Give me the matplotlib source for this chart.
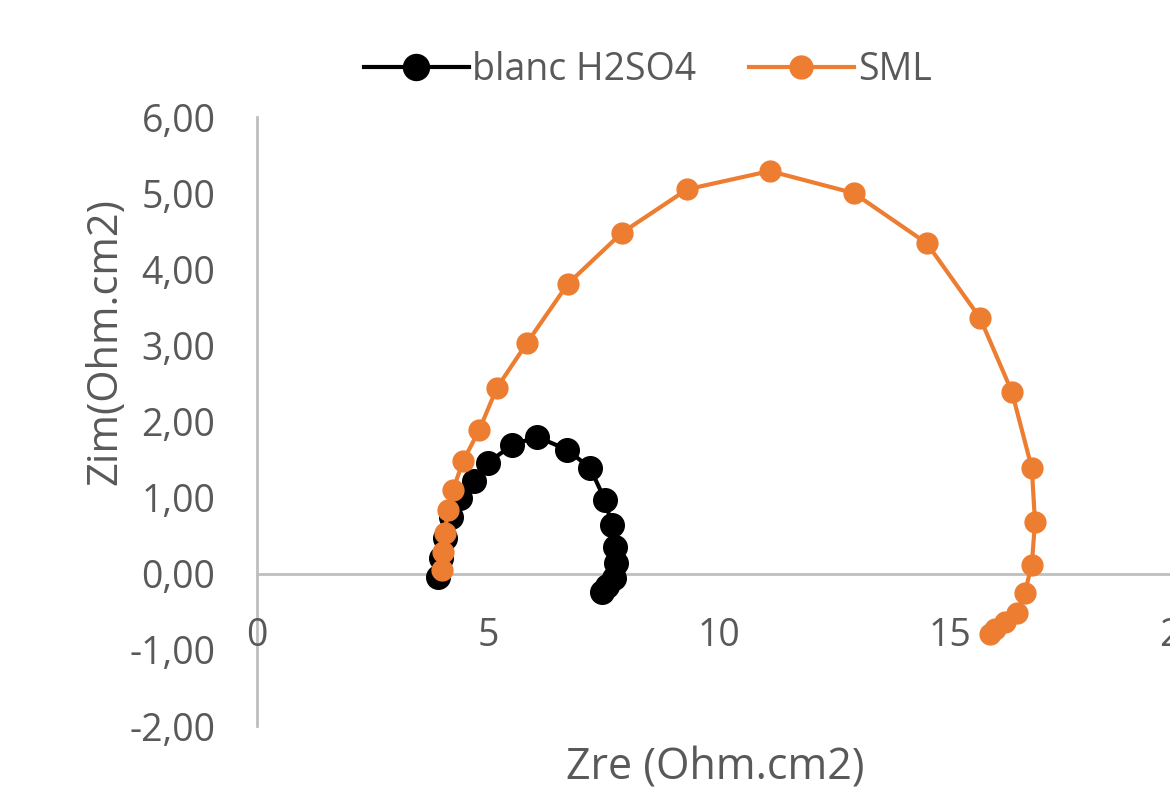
import matplotlib
matplotlib.use("Agg")
import matplotlib.pyplot as plt
from matplotlib.ticker import FuncFormatter

plt.rcParams['font.family'] = ['Open Sans', 'DejaVu Sans']

# blanc H2SO4
blanc_zre = [3.92, 3.98, 4.07, 4.20, 4.39, 4.70, 5.00, 5.52, 6.06, 6.71, 7.21,
             7.53, 7.68, 7.75, 7.77, 7.73, 7.58, 7.47]
blanc_zim = [-0.04, 0.21, 0.47, 0.75, 1.00, 1.22, 1.46, 1.69, 1.80, 1.63, 1.39,
             0.97, 0.64, 0.35, 0.14, -0.05, -0.16, -0.24]

# SML
sml_zre = [4.00, 4.03, 4.07, 4.13, 4.24, 4.46, 4.81, 5.19, 5.84, 6.73, 7.90, 9.31,
           11.10, 12.92, 14.50, 15.65, 16.34, 16.77, 16.84, 16.77, 16.62, 16.45,
           16.19, 15.97, 15.87]
sml_zim = [0.05, 0.28, 0.54, 0.84, 1.10, 1.48, 1.89, 2.44, 3.03, 3.81, 4.48, 5.05,
           5.29, 5.00, 4.34, 3.36, 2.39, 1.39, 0.68, 0.12, -0.25, -0.51,
           -0.63, -0.73, -0.79]

x_ticks = [0, 5, 10, 15, 20]
y_ticks = [-2, -1, 0, 1, 2, 3, 4, 5, 6]

gray = '#595959'
axis_col = '#bfbfbf'
orange = '#ED7D31'

fig = plt.figure(figsize=(11.7, 7.89), dpi=100)
ax = fig.add_axes([0.2197, 0.0798, 0.7897, 0.7719])

ax.plot(blanc_zre, blanc_zim, '-o', color='black', lw=3, ms=17, label='blanc H2SO4', zorder=3)
ax.plot(sml_zre, sml_zim, '-o', color=orange, lw=3, ms=15, label='SML', zorder=4)

ax.set_xlim(0, 20)
ax.set_ylim(-2, 6)
ax.set_xticks(x_ticks)
ax.set_yticks(y_ticks)
ax.yaxis.set_major_formatter(FuncFormatter(lambda v, p: f"{v:.2f}".replace('.', ',')))

for s in ['top', 'right']:
    ax.spines[s].set_visible(False)
ax.spines['bottom'].set_position(('data', 0))
for s in ['left', 'bottom']:
    ax.spines[s].set_color(axis_col)
    ax.spines[s].set_linewidth(2)
    ax.spines[s].set_zorder(1)

ax.tick_params(axis='x', length=0, pad=31, labelsize=27, labelcolor=gray)
ax.tick_params(axis='y', length=0, pad=30, labelsize=27, labelcolor=gray)

fig.text(0.611, 1 - 768 / 789, 'Zre (Ohm.cm2)', ha='center', va='center',
         fontsize=31, color=gray)
fig.text(0.09, 1 - 342 / 789, 'Zim(Ohm.cm2)', ha='center', va='center',
         rotation=90, fontsize=30, color=gray)

leg = fig.legend(loc='center', bbox_to_anchor=(0.5534, 1 - 70 / 789), ncol=2,
                 frameon=False, fontsize=27, handlelength=2.8, handletextpad=0.1,
                 columnspacing=1.4, markerscale=1.1)
for t in leg.get_texts():
    t.set_color(gray)

fig.savefig('out.png', dpi=100)
